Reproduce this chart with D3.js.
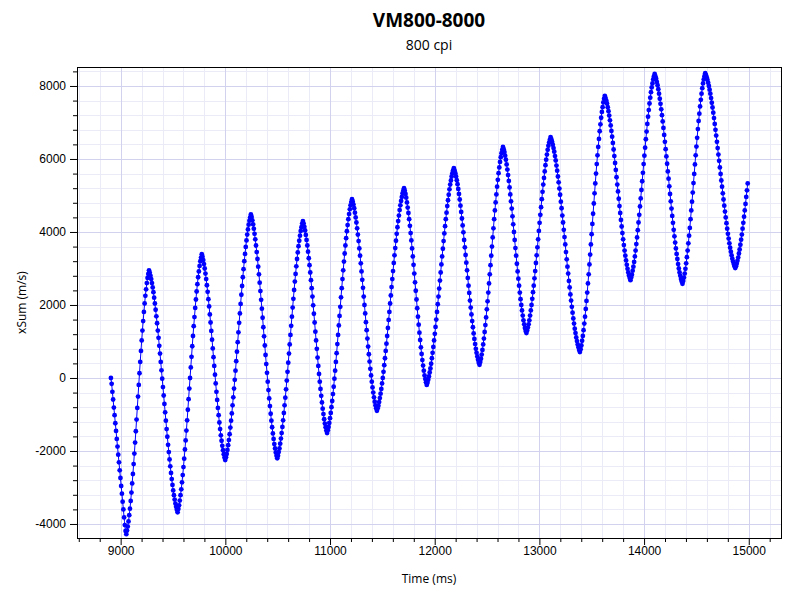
<!DOCTYPE html>
<html>
<head>
<meta charset="utf-8">
<script src="https://cdn.jsdelivr.net/npm/d3@7"></script>
<style>
body { margin: 0; background: #fff; }
svg { display: block; font-family: "Open Sans", "Noto Sans", sans-serif; }
</style>
</head>
<body>
<div id="main"></div>
<script>
var title = "VM800-8000";
var subtitle = "800 cpi";
var xLabel = "Time (ms)";
var yLabel = "xSum (m/s)";

var xTicks = [9000, 10000, 11000, 12000, 13000, 14000, 15000];
var yTicks = [-4000, -2000, 0, 2000, 4000, 6000, 8000];

// samples come in at a steady rate
var startTime = 8907;
var sampleStep = 7;

// one line per swing of the mouse
var xSum = [
    0,-160,-380,-590,-810,-1020,-1240,-1450,-1670,-1880,-2100,-2310,-2530,-2740,-2960,-3170,-3390,-3600,-3820,-4030,-4190,-4280,
    -4180,-4070,-3930,-3760,-3580,-3370,-3140,-2890,-2630,-2360,-2070,-1770,-1460,-1140,-820,-510,-190,130,440,740,1030,1300,1560,1810,2040,2250,2430,2600,2740,2850,2950,
    2880,2800,2710,2600,2480,2350,2200,2040,1870,1690,1500,1300,1100,880,670,440,210,-20,-250,-480,-710,-940,-1170,-1400,-1610,-1830,-2030,-2230,-2420,-2600,-2770,-2930,-3080,-3210,-3330,-3440,-3530,-3610,-3680,
    -3590,-3490,-3360,-3210,-3050,-2860,-2660,-2440,-2210,-1960,-1710,-1440,-1160,-870,-580,-290,0,290,580,870,1150,1420,1670,1920,2150,2370,2570,2760,2920,3070,3200,3300,3390,
    3320,3230,3120,3000,2860,2710,2540,2360,2160,1960,1740,1520,1290,1050,810,570,330,90,-150,-380,-600,-820,-1020,-1220,-1400,-1570,-1720,-1860,-1980,-2090,-2180,-2250,
    -2170,-2080,-1970,-1840,-1700,-1540,-1360,-1170,-970,-750,-530,-290,-50,200,460,720,980,1250,1510,1770,2030,2280,2520,2760,2980,3200,3400,3590,3770,3930,4070,4200,4310,4400,4480,
    4410,4320,4210,4090,3950,3800,3630,3450,3260,3050,2840,2610,2380,2140,1900,1650,1390,1140,890,630,380,140,-100,-330,-560,-770,-980,-1170,-1350,-1520,-1670,-1810,-1930,-2040,-2130,-2200,
    -2130,-2030,-1930,-1800,-1660,-1510,-1340,-1160,-960,-750,-540,-310,-70,170,420,670,920,1180,1430,1680,1930,2170,2410,2640,2850,3060,3260,3440,3610,3760,3900,4030,4130,4230,4300,
    4230,4140,4040,3920,3780,3630,3460,3280,3090,2890,2680,2460,2230,1990,1760,1520,1270,1030,800,560,330,110,-100,-300,-490,-670,-840,-990,-1130,-1250,-1350,-1440,-1510,
    -1430,-1340,-1230,-1100,-960,-800,-630,-440,-240,-20,200,440,680,930,1180,1440,1700,1950,2210,2460,2710,2950,3190,3410,3630,3830,4020,4190,4350,4490,4620,4730,4820,4900,
    4830,4750,4650,4530,4400,4260,4100,3930,3750,3550,3350,3140,2920,2690,2470,2230,2000,1770,1530,1310,1080,860,650,450,250,70,-100,-260,-400,-530,-650,-750,-830,-900,
    -830,-760,-660,-550,-430,-300,-150,0,170,350,540,740,940,1150,1370,1590,1810,2040,2260,2490,2710,2930,3150,3360,3560,3760,3950,4130,4300,4450,4600,4730,4850,4960,5060,5130,5200,
    5130,5040,4940,4810,4670,4520,4350,4170,3970,3770,3550,3330,3100,2860,2620,2390,2150,1910,1680,1460,1240,1040,840,660,490,340,200,70,-30,-120,-190,
    -130,-50,40,150,260,390,540,690,850,1030,1210,1400,1600,1810,2020,2230,2450,2670,2890,3110,3330,3540,3750,3960,4160,4350,4530,4710,4870,5020,5170,5300,5410,5520,5610,5690,5750,
    5690,5610,5520,5420,5310,5180,5040,4890,4720,4550,4370,4180,3990,3780,3580,3370,3160,2950,2740,2530,2330,2120,1930,1740,1560,1390,1220,1070,930,800,690,590,500,420,360,
    440,530,640,770,920,1080,1260,1450,1660,1880,2100,2340,2590,2840,3090,3350,3600,3850,4100,4350,4590,4810,5030,5240,5430,5610,5770,5920,6050,6160,6250,6330,
    6270,6190,6090,5980,5850,5710,5560,5400,5220,5030,4840,4640,4430,4210,4000,3780,3560,3350,3130,2920,2720,2530,2340,2160,2000,1850,1710,1580,1470,1370,1290,1230,
    1300,1380,1470,1580,1710,1850,2000,2170,2350,2530,2730,2930,3150,3360,3580,3800,4030,4250,4470,4680,4900,5100,5300,5480,5660,5830,5980,6120,6250,6360,6450,6530,6600,
    6540,6470,6390,6300,6200,6080,5960,5820,5680,5520,5360,5190,5020,4830,4650,4450,4260,4060,3860,3660,3450,3250,3050,2860,2660,2480,2290,2120,1950,1790,1630,1490,1350,1230,1110,1010,920,840,770,710,
    790,890,1020,1150,1310,1490,1680,1890,2110,2340,2590,2840,3110,3380,3660,3940,4220,4500,4780,5060,5330,5600,5860,6100,6330,6550,6760,6950,7130,7290,7420,7550,7650,7730,
    7670,7600,7520,7420,7310,7190,7060,6920,6770,6610,6440,6260,6080,5890,5700,5500,5300,5110,4910,4710,4520,4330,4150,3970,3800,3640,3490,3350,3220,3100,2990,2890,2810,2740,2680,
    2750,2830,2940,3050,3180,3330,3490,3670,3850,4050,4260,4470,4700,4920,5150,5390,5620,5860,6090,6310,6540,6750,6960,7160,7340,7520,7680,7830,7960,8070,8180,8260,8330,
    8270,8200,8110,8020,7910,7790,7650,7510,7360,7200,7030,6850,6660,6470,6270,6070,5870,5660,5460,5250,5040,4840,4640,4440,4250,4060,3880,3710,3550,3400,3260,3120,3000,2890,2800,2710,2640,2580,
    2660,2750,2860,2990,3140,3310,3490,3690,3900,4110,4350,4590,4830,5080,5340,5590,5850,6100,6340,6580,6820,7040,7240,7440,7620,7790,7940,8070,8180,8270,8350,
    8300,8240,8170,8090,8000,7900,7790,7670,7540,7410,7270,7120,6960,6800,6640,6470,6300,6120,5950,5770,5590,5410,5240,5060,4890,4720,4560,4400,4240,4090,3950,3820,3690,3570,3460,3360,3270,3190,3120,3060,3010,
    3060,3130,3210,3300,3410,3520,3650,3790,3930,4090,4250,4420,4590,4770,4960,5140,5330
];

var width = 800;
var height = 600;
var margin = {left: 77, top: 67, right: 19, bottom: 62};
var plotW = width - margin.left - margin.right;
var plotH = height - margin.top - margin.bottom;

var points = xSum.map(function(v, i) {
    return {t: startTime + i * sampleStep, v: v};
});

var x = d3.scaleLinear().domain([8583, 15308]).range([0, plotW]);
var y = d3.scaleLinear().domain([-4384, 8520]).range([plotH, 0]);

// minor steps are a fifth of the major ones
var xMinor = d3.range(8600, 15308, 200).filter(function(d) { return d % 1000 != 0; });
var yMinor = d3.range(-4000, 8520, 400).filter(function(d) { return d % 2000 != 0; });

var svg = d3.select("#main")
    .append("svg")
    .attr("width", width)
    .attr("height", height);

svg.append("text")
    .attr("x", margin.left + plotW / 2)
    .attr("y", 27)
    .attr("text-anchor", "middle")
    .style("font-size", "19px")
    .style("font-weight", "bold")
    .text(title);

svg.append("text")
    .attr("x", margin.left + plotW / 2)
    .attr("y", 50)
    .attr("text-anchor", "middle")
    .style("font-size", "14px")
    .text(subtitle);

var plot = svg.append("g")
    .attr("transform", "translate(" + margin.left + "," + margin.top + ")");

plot.append("clipPath")
    .attr("id", "clip")
    .append("rect")
    .attr("width", plotW)
    .attr("height", plotH);

function vlines(g, values, colour) {
    g.selectAll(null)
        .data(values)
        .enter()
        .append("line")
        .attr("x1", function(d) { return Math.round(x(d)) + 0.5; })
        .attr("x2", function(d) { return Math.round(x(d)) + 0.5; })
        .attr("y1", 0)
        .attr("y2", plotH)
        .attr("stroke", colour);
}

function hlines(g, values, colour) {
    g.selectAll(null)
        .data(values)
        .enter()
        .append("line")
        .attr("x1", 0)
        .attr("x2", plotW)
        .attr("y1", function(d) { return Math.round(y(d)) + 0.5; })
        .attr("y2", function(d) { return Math.round(y(d)) + 0.5; })
        .attr("stroke", colour);
}

var grid = plot.append("g");
vlines(grid, xMinor, "#ebebf7");
hlines(grid, yMinor, "#ebebf7");
vlines(grid, xTicks, "#d2d2ee");
hlines(grid, yTicks, "#d2d2ee");

var series = plot.append("g").attr("clip-path", "url(#clip)");

var line = d3.line()
    .x(function(d) { return x(d.t); })
    .y(function(d) { return y(d.v); })
    .curve(d3.curveCatmullRom);

series.append("path")
    .datum(points)
    .attr("fill", "none")
    .attr("stroke", "#0000ff")
    .attr("stroke-width", 1)
    .attr("d", line);

series.selectAll(".dot")
    .data(points)
    .enter()
    .append("circle")
    .attr("class", "dot")
    .attr("cx", function(d) { return x(d.t); })
    .attr("cy", function(d) { return y(d.v); })
    .attr("r", 2.4)
    .attr("fill", "#0000ff");

plot.append("rect")
    .attr("x", 0.5)
    .attr("y", 0.5)
    .attr("width", plotW)
    .attr("height", plotH)
    .attr("fill", "none")
    .attr("stroke", "#000");

var plain = function(d) { return String(d); };

function style_axis(g) {
    g.select(".domain").remove();
    g.selectAll("text").style("font-size", "12px").attr("fill", "#000");
    g.selectAll("line").attr("stroke", "#000");
}

plot.append("g")
    .attr("transform", "translate(0," + plotH + ")")
    .call(d3.axisBottom(x).tickValues(xMinor).tickSize(4).tickFormat(""))
    .call(style_axis);
plot.append("g")
    .attr("transform", "translate(0," + plotH + ")")
    .call(d3.axisBottom(x).tickValues(xTicks).tickSize(7).tickPadding(1).tickFormat(plain))
    .call(style_axis);
plot.append("g")
    .call(d3.axisLeft(y).tickValues(yMinor).tickSize(4).tickFormat(""))
    .call(style_axis);
plot.append("g")
    .call(d3.axisLeft(y).tickValues(yTicks).tickSize(7).tickPadding(4).tickFormat(plain))
    .call(style_axis);

svg.append("text")
    .attr("x", margin.left + plotW / 2)
    .attr("y", 583)
    .attr("text-anchor", "middle")
    .style("font-size", "12px")
    .text(xLabel);

svg.append("text")
    .attr("transform", "translate(26," + (margin.top + plotH / 2) + ") rotate(-90)")
    .attr("text-anchor", "middle")
    .style("font-size", "12px")
    .text(yLabel);
</script>
</body>
</html>
